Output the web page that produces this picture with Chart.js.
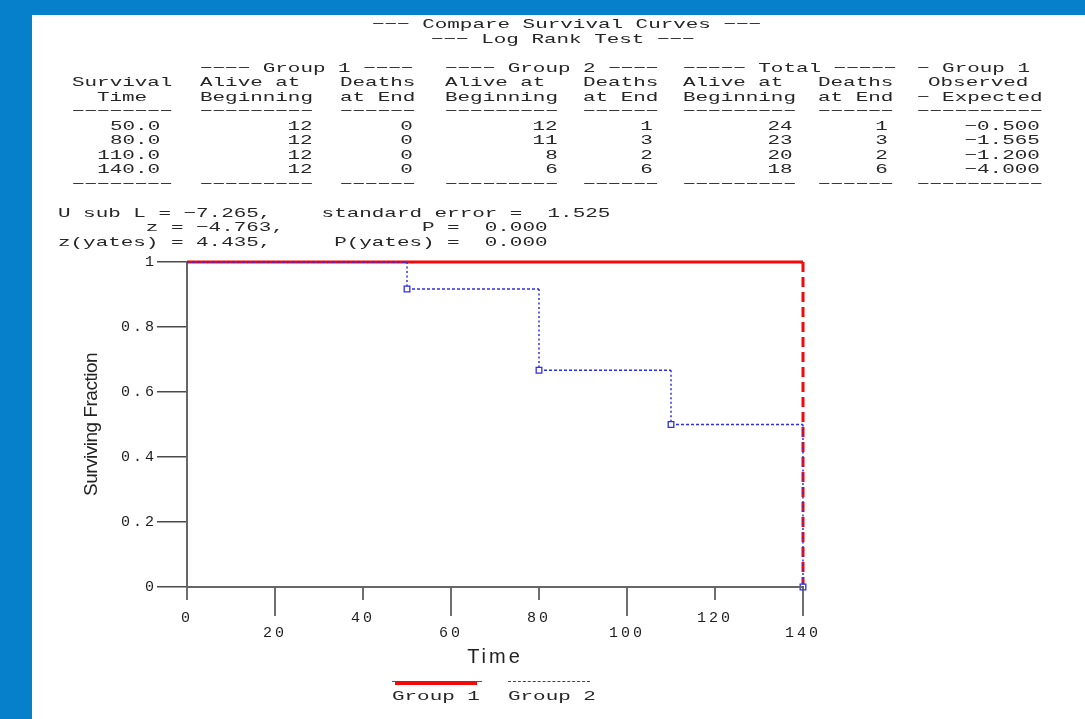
<!DOCTYPE html>
<html><head><meta charset="utf-8">
<script src="https://cdn.jsdelivr.net/npm/chart.js@4.4.1/dist/chart.umd.min.js"></script>
<style>
html,body{margin:0;padding:0;}
body{width:1085px;height:719px;background:#0680CA;position:relative;overflow:hidden;}
#panel{position:absolute;left:32px;top:15px;width:1053px;height:704px;background:#fff;}
#chart{position:absolute;left:0;top:0;}
.t{position:absolute;white-space:pre;font-family:'Liberation Mono',monospace;font-size:13px;line-height:13px;color:#262626;}
.ln{position:absolute;}
</style></head><body>
<div id="panel"></div>
<canvas id="chart" width="1085" height="719"></canvas>
<div id="layer"></div>
<script>
// ---- data ----
const survTimes   = [50, 80, 110, 140];
const g1Alive     = [12, 12, 12, 12];
const g1Deaths    = [0, 0, 0, 0];
const g2Alive     = [12, 11, 8, 6];
const g2Deaths    = [1, 3, 2, 6];
const totAlive    = [24, 23, 20, 18];
const totDeaths   = [1, 3, 2, 6];
const obsMinusExp = [-0.500, -1.565, -1.200, -4.000];

const uSubL = -7.265, stdErr = 1.525, zVal = -4.763, pVal = 0.000, zYates = 4.435, pYates = 0.000;

const eventTimes      = [0, 50, 80, 110, 140];
const group1Survival  = [1, 1, 1, 1, 0];
const group2Survival  = [1, 0.917, 0.667, 0.5, 0];
const seriesLabels    = ['Group 1', 'Group 2'];
const xTickLabels     = ['0', '20', '40', '60', '80', '100', '120', '140'];
const yTickLabels     = ['0', '0.2', '0.4', '0.6', '0.8', '1'];

// ---- text layer ----
const layer = document.getElementById('layer');
const FS = 13, CW = 12.55, SX = CW / (FS * 0.6);
function put(str, x, y, anchor) {
  const d = document.createElement('div');
  d.className = 't';
  d.textContent = str.replace(/-/g, '\u2212');
  d.style.top = (y - 6) + 'px';
  if (anchor === 'right') {
    d.style.right = (1085 - x) + 'px';
    d.style.transformOrigin = '100% 50%';
    d.style.transform = `scaleX(${SX})`;
  } else if (anchor === 'center') {
    d.style.left = x + 'px';
    d.style.transformOrigin = '50% 50%';
    d.style.transform = `translateX(-50%) scaleX(${SX})`;
  } else {
    d.style.left = x + 'px';
    d.style.transformOrigin = '0 50%';
    d.style.transform = `scaleX(${SX})`;
  }
  layer.appendChild(d);
}
const LH = 14.5, Y0 = 24;
const rowY = k => Y0 + LH * k;

put('--- Compare Survival Curves ---', 372, rowY(0));
put('--- Log Rank Test ---', 431, rowY(1));

const colL = [72, 200, 340, 445, 583, 683, 818, 917];
const colR = [160, 313, 413, 558, 653, 793, 888, 1040];
put('---- Group 1 ----', 200, rowY(3));
put('---- Group 2 ----', 445, rowY(3));
put('----- Total -----', 683, rowY(3));
put('- Group 1', 917, rowY(3));
const hdr1 = ['Survival', 'Alive at', 'Deaths', 'Alive at', 'Deaths', 'Alive at', 'Deaths'];
hdr1.forEach((s, i) => put(s, colL[i], rowY(4)));
put('Observed', 928, rowY(4));
put('Time', 122, rowY(5), 'center');
const hdr2 = ['Beginning', 'at End', 'Beginning', 'at End', 'Beginning', 'at End', '- Expected'];
hdr2.forEach((s, i) => put(s, colL[i + 1], rowY(5)));
const dashN = [8, 9, 6, 9, 6, 9, 6, 10];
[6, 11].forEach(k => dashN.forEach((n, i) => put('-'.repeat(n), colL[i], rowY(k))));
survTimes.forEach((t, r) => {
  const vals = [t.toFixed(1), g1Alive[r], g1Deaths[r], g2Alive[r], g2Deaths[r], totAlive[r], totDeaths[r], obsMinusExp[r].toFixed(3)];
  vals.forEach((v, i) => put(String(v), colR[i], rowY(7 + r), 'right'));
});
put(`U sub L = ${uSubL.toFixed(3)},    standard error =  ${stdErr.toFixed(3)}`, 58, rowY(13));
put(`       z = ${zVal.toFixed(3)},           P =  ${pVal.toFixed(3)}`, 58, rowY(14));
put(`z(yates) = ${zYates.toFixed(3)},     P(yates) =  ${pYates.toFixed(3)}`, 58, rowY(15));

// ---- chart ----
function stepPoints(t, s) {
  const pts = [{x: t[0], y: s[0]}];
  for (let i = 1; i < t.length; i++) {
    pts.push({x: t[i], y: s[i - 1]});
    pts.push({x: t[i], y: s[i]});
  }
  return pts;
}
const isFlat = c => Math.abs(c.p0.y - c.p1.y) < 0.5;
const RED = '#F20A0A', BLUE = '#2E2EF2';

const deco = {
  id: 'deco',
  beforeDraw(chart) { chart.ctx.letterSpacing = '-0.5px'; },
  afterDatasetsDraw(chart) {
    const {ctx} = chart; const x = chart.scales.x;
    ctx.save();
    ctx.letterSpacing = '0px';
    ctx.strokeStyle = '#4a4a4a'; ctx.lineWidth = 1.6;
    x.ticks.forEach((t, i) => {
      const px = Math.round(x.getPixelForValue(t.value));
      const len = i % 2 ? 29 : 13;
      ctx.beginPath(); ctx.moveTo(px, x.top); ctx.lineTo(px, x.top + len); ctx.stroke();
    });
    ctx.restore();
    ctx.letterSpacing = '3px';
  },
  afterDraw(chart) { chart.ctx.letterSpacing = '0px'; }
};

const chart = new Chart(document.getElementById('chart'), {
  type: 'line',
  data: {
    datasets: [
      {
        label: seriesLabels[0],
        data: stepPoints(eventTimes, group1Survival),
        borderColor: RED, borderWidth: 3, pointRadius: 0, tension: 0, clip: false, order: 1,
        borderDash: [10, 5],
        segment: { borderDash: c => isFlat(c) ? [] : [10, 5] }
      },
      {
        label: seriesLabels[1],
        data: stepPoints(eventTimes, group2Survival),
        borderColor: BLUE, borderWidth: 1.5, tension: 0, clip: false, order: 0,
        borderDash: [3, 2],
        pointStyle: 'rect', pointBackgroundColor: '#fff', pointBorderColor: BLUE, pointBorderWidth: 1.3,
        pointRadius: c => (c.dataIndex > 0 && c.dataIndex % 2 === 0) ? 4 : 0,
        segment: { borderDash: c => isFlat(c) ? [3, 2] : [2, 2.5] }
      }
    ]
  },
  options: {
    responsive: false, animation: false, devicePixelRatio: 1, events: [],
    layout: { padding: { left: 0, right: 282, top: 262, bottom: 0 } },
    plugins: { legend: { display: false }, tooltip: { enabled: false } },
    scales: {
      x: {
        type: 'linear', min: 0, max: 140,
        ticks: {
          stepSize: 20, autoSkip: false, maxRotation: 0, padding: 15.5, z: 1, color: '#1e1e1e',
          font: { family: 'Liberation Mono', size: 15, lineHeight: 1 },
          callback: (v, i) => (i % 2 ? ['', xTickLabels[i]] : xTickLabels[i])
        },
        grid: { display: false, z: 1 },
        border: { display: true, color: '#666', width: 2, z: 1 },
        title: { display: true, text: 'Time', color: '#222',
          font: { family: 'Liberation Sans', size: 20, lineHeight: 1.2 }, padding: { top: 0, bottom: 50 } },
        afterFit: s => { s.height = 132; }
      },
      y: {
        type: 'linear', min: 0, max: 1,
        ticks: {
          stepSize: 0.2, padding: 0, z: 1, color: '#1e1e1e',
          font: { family: 'Liberation Mono', size: 15 },
          callback: (v, i) => yTickLabels[i]
        },
        grid: { drawOnChartArea: false, drawTicks: true, tickLength: 30, color: '#4a4a4a', lineWidth: 1.5 },
        border: { display: true, color: '#666', width: 2 },
        title: { display: true, text: 'Surviving Fraction', color: '#222',
          font: { family: 'Liberation Sans', size: 19, lineHeight: 1.2 },
          padding: { top: 80, bottom: 0 } },
        afterFit: s => { s.width = 187; }
      }
    }
  },
  plugins: [deco]
});

// ---- legend (built from datasets) ----
const legendPos = [{x: 392, w: 90}, {x: 508, w: 82}];
chart.data.datasets.forEach((ds, i) => {
  const p = legendPos[i];
  if (i === 0) {
    const thin = document.createElement('div'); thin.className = 'ln';
    Object.assign(thin.style, {left: p.x + 'px', top: '681px', width: p.w + 'px', height: '1px', background: '#555'});
    layer.appendChild(thin);
    const thick = document.createElement('div'); thick.className = 'ln';
    Object.assign(thick.style, {left: (p.x + 3) + 'px', top: '681px', width: (p.w - 8) + 'px', height: '4px', background: ds.borderColor});
    layer.appendChild(thick);
  } else {
    const dl = document.createElement('div'); dl.className = 'ln';
    Object.assign(dl.style, {left: p.x + 'px', top: '681px', width: p.w + 'px', height: '0', borderTop: '1.5px dashed ' + ds.borderColor});
    layer.appendChild(dl);
  }
  put(ds.label, p.x, 696);
});
</script>
</body></html>
